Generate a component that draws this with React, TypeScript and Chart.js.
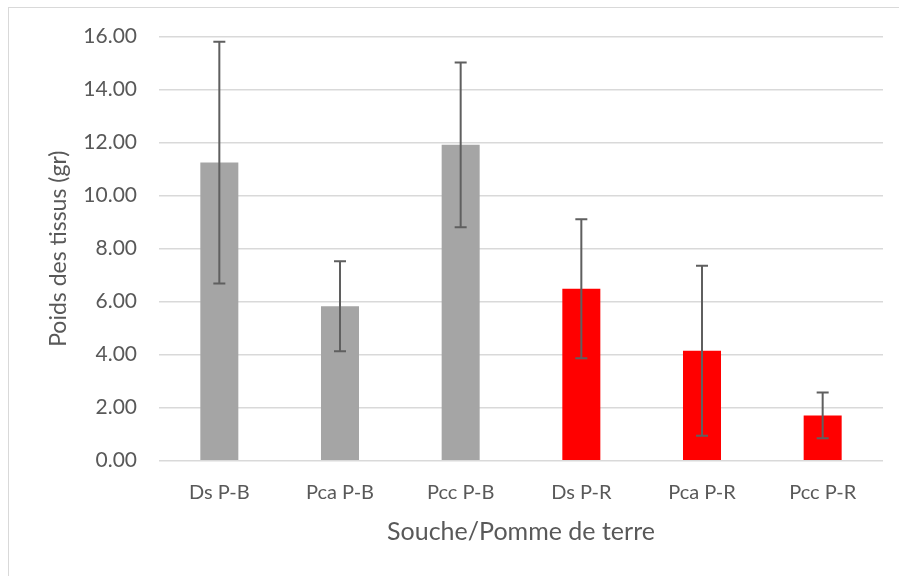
import React, { useEffect, useRef } from "react";
import { Chart, registerables } from "chart.js";

Chart.register(...registerables);

const categories = ["Ds P-B", "Pca P-B", "Pcc P-B", "Ds P-R", "Pca P-R", "Pcc P-R"];
const values = [11.25, 5.83, 11.92, 6.49, 4.15, 1.71];
const errors = [4.56, 1.7, 3.11, 2.62, 3.21, 0.86];
const barColors = ["#a5a5a5", "#a5a5a5", "#a5a5a5", "#ff0000", "#ff0000", "#ff0000"];
const yTitle = "Poids des tissus (gr)";
const xTitle = "Souche/Pomme de terre";

const FONT = "Lato, 'Open Sans', sans-serif";
const TEXT = "#595959";

const errorBarPlugin = {
  id: "errorBars",
  afterDatasetsDraw(chart: any) {
    const meta = chart.getDatasetMeta(0);
    const y = chart.scales.y;
    const ctx = chart.ctx;
    ctx.save();
    ctx.strokeStyle = "#5f5f5f";
    ctx.lineWidth = 2;
    meta.data.forEach((bar: any, i: number) => {
      const x = bar.x;
      const top = y.getPixelForValue(values[i] + errors[i]);
      const bot = y.getPixelForValue(values[i] - errors[i]);
      const cap = 6;
      ctx.beginPath();
      ctx.moveTo(x, top);
      ctx.lineTo(x, bot);
      ctx.moveTo(x - cap, top);
      ctx.lineTo(x + cap, top);
      ctx.moveTo(x - cap, bot);
      ctx.lineTo(x + cap, bot);
      ctx.stroke();
    });
    ctx.restore();
  },
};

export default function App() {
  const ref = useRef<HTMLCanvasElement>(null);
  useEffect(() => {
    if (!ref.current) return;
    const chart = new Chart(ref.current, {
      type: "bar",
      data: {
        labels: categories,
        datasets: [
          {
            data: values,
            backgroundColor: barColors,
            borderWidth: 0,
            categoryPercentage: 1,
            barPercentage: 0.315,
          },
        ],
      },
      options: {
        animation: false,
        responsive: false,
        maintainAspectRatio: false,
        layout: { padding: { top: 28.7, right: 16, bottom: 0, left: 0 } },
        plugins: { legend: { display: false }, tooltip: { enabled: false } },
        scales: {
          x: {
            grid: { display: false, drawTicks: false },
            border: { display: false },
            ticks: { color: TEXT, font: { family: FONT, size: 20 }, padding: 20, maxRotation: 0 },
            title: {
              display: true,
              text: xTitle,
              color: TEXT,
              font: { family: FONT, size: 25 },
              padding: { top: 0, bottom: 29 },
            },
            afterFit(scale: any) {
              scale.height = 115.3;
            },
          },
          y: {
            min: 0,
            max: 16,
            grid: { color: "#d9d9d9", lineWidth: 1.5, drawTicks: false },
            border: { display: false },
            ticks: {
              stepSize: 2,
              color: TEXT,
              font: { family: FONT, size: 21 },
              padding: 22,
              callback: (v: any) => Number(v).toFixed(2),
            },
            title: {
              display: true,
              text: yTitle,
              color: TEXT,
              font: { family: FONT, size: 23 },
              padding: { top: 36, bottom: 0 },
            },
            afterFit(scale: any) {
              scale.width = 150;
              scale.paddingTop = 0;
              scale.paddingBottom = 0;
            },
          },
        },
      },
      plugins: [errorBarPlugin],
    });
    return () => chart.destroy();
  }, []);

  return (
    <div
      style={{
        position: "fixed",
        left: 8,
        top: 7,
        width: 891,
        height: 569,
        borderTop: "1px solid #d9d9d9",
        borderLeft: "1px solid #d9d9d9",
        background: "#fff",
      }}
    >
      <canvas ref={ref} width={890} height={568} style={{ display: "block" }} />
    </div>
  );
}
